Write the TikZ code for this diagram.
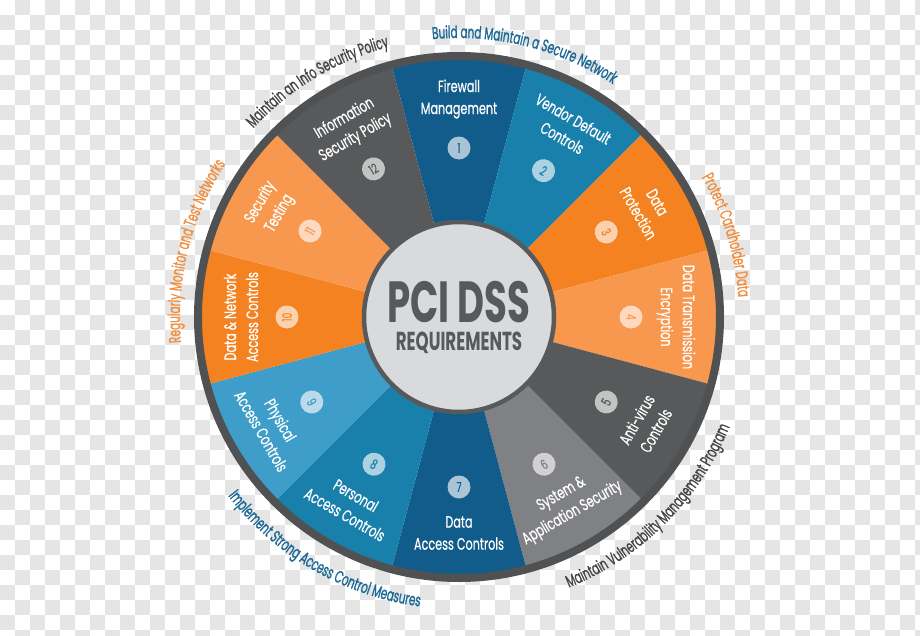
\documentclass[tikz,border=0pt]{standalone}
\usepackage{fontspec}
\setmainfont{Poppins}[FakeStretch=0.68, FakeBold=0.5]
\newfontfamily\titlefont{Poppins}[FakeStretch=0.64]
\newfontfamily\arcfont{Poppins}[FakeStretch=0.61, FakeBold=1]
\usetikzlibrary{decorations.text}

\definecolor{cDblue}{RGB}{17,92,138}
\definecolor{cMblue}{RGB}{25,128,172}
\definecolor{cLblue}{RGB}{62,157,201}
\definecolor{cOrange}{RGB}{245,130,32}
\definecolor{cLorange}{RGB}{247,152,78}
\definecolor{cDgray}{RGB}{88,89,91}
\definecolor{cMgray}{RGB}{128,129,132}
\definecolor{cRing}{RGB}{80,81,83}
\definecolor{cInner}{RGB}{217,218,220}
\definecolor{cChecker}{RGB}{229,229,229}
\definecolor{cBlueText}{RGB}{27,104,148}
\definecolor{cOrangeText}{RGB}{240,142,62}
\definecolor{cGrayText}{RGB}{68,69,71}

\newcommand\arcfmt{\arcfont\fontsize{17}{17}\selectfont}

\tikzset{
  wedgelabel/.style={text=white, align=center, inner sep=0pt,
    font=\fontsize{16.5}{22}\selectfont},
  numdisc/.style={circle, minimum size=23pt, inner sep=0pt, fill=white,
    fill opacity=0.64, text opacity=1, font=\fontsize{13.5}{13.5}\selectfont},
  titletext/.style={text=cDgray, inner sep=0pt, anchor=base},
  arctext/.style={decorate, decoration={text along path, text align=center}},
}

\begin{document}
\begin{tikzpicture}[x=1pt,y=1pt]
\useasboundingbox (-459,-318) rectangle (461,317);
\clip (-459,-318) rectangle (461,317);

% checkerboard background
\foreach \j in {0,...,42}{
  \foreach \i in {0,...,61}{
    \pgfmathtruncatemacro\chk{mod(\i+\j,2)}
    \ifnum\chk=1
      \fill[cChecker] ({15*\i-459},{317-15*\j}) rectangle ++(15,-15);
    \fi
  }
}

% wedges
\foreach \a/\c in {90/cDblue, 60/cMblue, 30/cOrange, 0/cLorange,
                   -30/cDgray, -60/cMgray, -90/cDblue, -120/cMblue,
                   -150/cLblue, 180/cOrange, 150/cLorange, 120/cDgray}{
  \pgfmathsetmacro\sa{\a-15}
  \fill[\c] (0,0) -- (\sa:258) arc[start angle=\sa, delta angle=30, radius=258] -- cycle;
}

% outer ring
\draw[cRing, line width=8pt] (0,0) circle[radius=261];

% hub
\node[circle, fill=cInner, draw=cDgray, line width=4.5pt, minimum size=190pt] (hub) at (0,0) {};
\node[titletext, font=\titlefont\bfseries\fontsize{58}{58}\selectfont] (t1) at (0,-5) {PCI DSS};
\node[titletext, font=\titlefont\bfseries\fontsize{26}{26}\selectfont] (t2) at (0,-33) {REQUIREMENTS};

% wedge labels
\node[wedgelabel, rotate=0]   (l1)  at (90:218)   {Firewall\\Management};
\node[wedgelabel, rotate=-30] (l2)  at (60:218)   {Vendor Default\\Controls};
\node[wedgelabel, rotate=-60] (l3)  at (30:218)   {Data\\Protection};
\node[wedgelabel, rotate=-90] (l4)  at (0:217)    {Data Transmission\\Encryption};
\node[wedgelabel, rotate=60]  (l5)  at (-30:216)  {Anti-virus\\Controls};
\node[wedgelabel, rotate=30]  (l6)  at (-60:216)  {System \&\\Application Security};
\node[wedgelabel, rotate=0]   (l7)  at (-90:216)  {Data\\Access Controls};
\node[wedgelabel, rotate=-30] (l8)  at (-120:217) {Personal\\Access Controls};
\node[wedgelabel, rotate=-60] (l9)  at (-150:217) {Physical\\Access Controls};
\node[wedgelabel, rotate=90]  (l10) at (180:218)  {Data \& Network\\Access Controls};
\node[wedgelabel, rotate=60]  (l11) at (150:218)  {Security\\Testing};
\node[wedgelabel, rotate=30]  (l12) at (120:218)  {Information\\Security Policy};

% number discs
\node[numdisc, rotate=0,   text=cDblue]   (n1)  at (90:169)   {1};
\node[numdisc, rotate=-30, text=cMblue]   (n2)  at (60:169)   {2};
\node[numdisc, rotate=-60, text=cOrange]  (n3)  at (30:170)   {3};
\node[numdisc, rotate=-90, text=cLorange] (n4)  at (0:172)    {4};
\node[numdisc, rotate=60,  text=cDgray]   (n5)  at (-30:170)  {5};
\node[numdisc, rotate=30,  text=cMgray]   (n6)  at (-60:170)  {6};
\node[numdisc, rotate=0,   text=cDblue]   (n7)  at (-90:170)  {7};
\node[numdisc, rotate=-30, text=cMblue]   (n8)  at (-120:170) {8};
\node[numdisc, rotate=-60, text=cLblue]   (n9)  at (-150:170) {9};
\node[numdisc, rotate=90,  text=cOrange]  (n10) at (180:172)  {10};
\node[numdisc, rotate=60,  text=cLorange] (n11) at (150:172)  {11};
\node[numdisc, rotate=30,  text=cDgray]   (n12) at (120:171)  {12};

% category labels along the ring
\path[arctext, decoration={text={|\arcfmt\color{cGrayText}|Maintain an Info Security Policy}}]
  (166:279) arc[start angle=166, end angle=76, radius=279];
\path[arctext, decoration={text={|\arcfmt\color{cBlueText}|Build and Maintain a Secure Network}}]
  (121:279) arc[start angle=121, end angle=31, radius=279];
\path[arctext, decoration={text={|\arcfmt\color{cOrangeText}|Protect Cardholder Data}}]
  (62:280) arc[start angle=62, end angle=-28, radius=280];
\path[arctext, decoration={text={|\arcfmt\color{cGrayText}|Maintain Vulnerability Management Program}}]
  (-90:292) arc[start angle=-90, end angle=0, radius=292];
\path[arctext, decoration={text={|\arcfmt\color{cBlueText}|Implement Strong Access Control Measures}}]
  (-165:292) arc[start angle=-165, end angle=-75, radius=292];
\path[arctext, decoration={text={|\arcfmt\color{cOrangeText}|Regularly Monitor and Test Networks}}]
  (211:279) arc[start angle=211, end angle=121, radius=279];
\end{tikzpicture}
\end{document}
